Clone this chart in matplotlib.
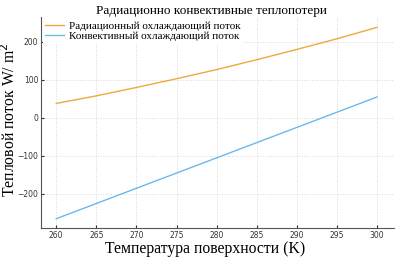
import matplotlib
matplotlib.use("Agg")
import matplotlib.pyplot as plt

temps = [260, 265, 270, 275, 280, 285, 290, 295, 300]
radiative = [38, 58, 80, 103, 127, 153, 180, 208, 238]
convective = [-265, -225, -185, -145, -105, -65, -25, 15, 55]
xticks = [260, 265, 270, 275, 280, 285, 290, 295, 300]
yticks = [-200, -100, 0, 100, 200]

fig = plt.figure(figsize=(4.04, 2.63), dpi=100)
ax = fig.add_axes([0.1015, 0.133, 0.8735, 0.802])
serif = "Liberation Serif"

ax.plot(temps, radiative, color="#EDA93C", lw=1.0, label="Радиационный охлаждающий поток")
ax.plot(temps, convective, color="#6DB9EA", lw=1.0, label="Конвективный охлаждающий поток")

ax.set_xlim(258.1, 302.1)
ax.set_ylim(-289.5, 265)
ax.set_xticks(xticks)
ax.set_yticks(yticks)
ax.grid(True, color="#d8d8d8", ls=":", lw=0.7)
for s in ["top", "right"]:
    ax.spines[s].set_visible(False)
for s in ["left", "bottom"]:
    ax.spines[s].set_color("#555555")
    ax.spines[s].set_linewidth(0.8)
ax.tick_params(labelsize=5.5, colors="#333333", length=2, direction="in", pad=2)

ax.set_title("Радиационно конвективные теплопотери", fontfamily=serif, fontsize=9.5,
             pad=2, x=0.482)
ax.set_xlabel("Температура поверхности (K)", fontfamily=serif, fontsize=11.3, va="center")
ax.xaxis.set_label_coords(0.465, -0.098)
ax.set_ylabel("Тепловой поток W/ m$^2$", fontfamily=serif, fontsize=11.3, va="center")
ax.yaxis.set_label_coords(-0.09, 0.515)

leg = ax.legend(loc="upper left", prop={"family": serif, "size": 8}, frameon=True,
                handlelength=1.7, borderaxespad=0.2, borderpad=0.15, labelspacing=0.05,
                handletextpad=0.5, fancybox=False)
leg.get_frame().set_edgecolor("none")
leg.get_frame().set_facecolor("white")
leg.get_frame().set_alpha(1)

fig.savefig("out.png", dpi=100)
